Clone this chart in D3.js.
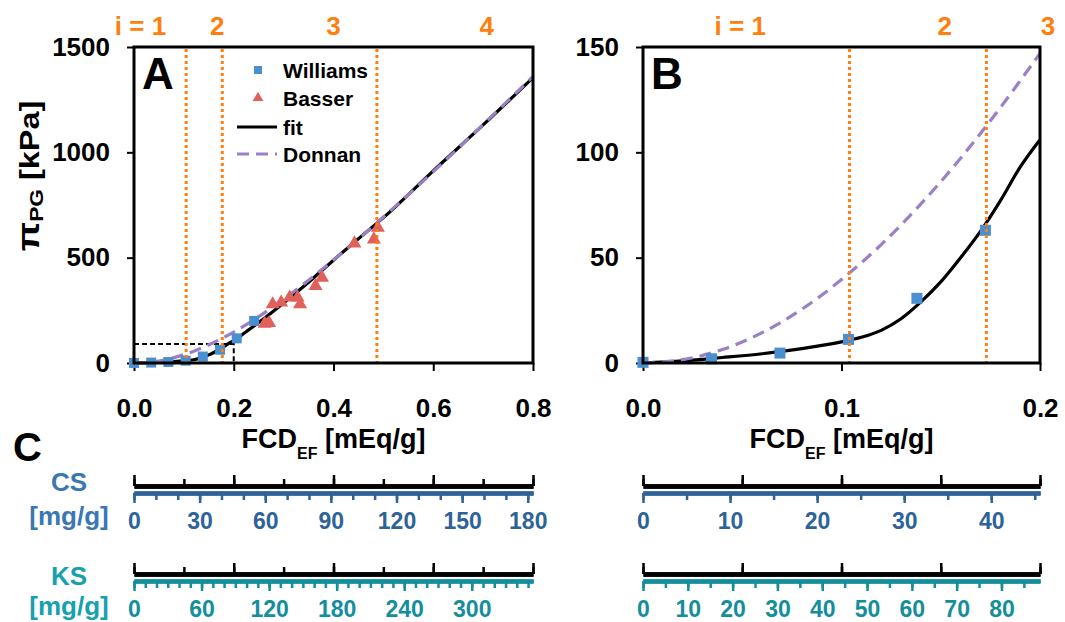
<!DOCTYPE html>
<html>
<head>
<meta charset="utf-8">
<script src="https://d3js.org/d3.v7.min.js"></script>
<style>
  body { margin: 0; background: #fff; }
  svg text { font-family: Arial, "Liberation Sans", sans-serif; font-weight: bold; }
</style>
</head>
<body>
<svg id="chart" width="1065" height="622"></svg>
<script>
// ---- data ----
const williamsX = [0, 0.0345, 0.069, 0.1035, 0.138, 0.1725, 0.206, 0.241];
const williamsY = [0.3, 2, 4.7, 11.2, 30.7, 63, 117, 200];

const basserX = [0.262, 0.271, 0.278, 0.295, 0.312, 0.328, 0.333, 0.364, 0.377, 0.442, 0.481, 0.489];
const basserY = [187, 190, 279, 287, 311, 311, 279, 366, 405, 568, 587, 642];

const fitX = [0, 0.02, 0.04, 0.06, 0.08, 0.1, 0.11, 0.12, 0.13, 0.14, 0.15, 0.16, 0.17, 0.18, 0.19, 0.2,
              0.22, 0.25, 0.3, 0.35, 0.4, 0.45, 0.5, 0.6, 0.7, 0.8];
const fitY = [0, 1.0, 2.6, 4.4, 6.8, 10, 12.2, 15.5, 21, 29, 38.5, 50, 62.5, 77, 93, 106,
              140, 192, 285, 383, 488, 590, 690, 912, 1130, 1355];

const donnanX = [0, 0.02, 0.04, 0.06, 0.08, 0.1, 0.12, 0.14, 0.16, 0.18, 0.2,
                 0.25, 0.3, 0.35, 0.4, 0.45, 0.5, 0.6, 0.7, 0.8];
const donnanY = [0, 1.6, 6.4, 14.4, 25.5, 39.6, 56.2, 75.5, 97.2, 121.2, 147,
                 220, 303, 393, 489, 589, 693, 908, 1132, 1360];

// region boundaries (dotted orange) and region labels
const linesA = [0.1045, 0.177, 0.487];
const linesB = [0.104, 0.173];
const regionTextA = ["i = 1", "2", "3", "4"];
const regionPosA = [0.013, 0.167, 0.40, 0.707];
const regionTextB = ["i = 1", "2", "3"];
const regionPosB = [0.049, 0.152, 0.204];

// ticks
const xTicksA = [0, 0.2, 0.4, 0.6, 0.8];
const yTicksA = [0, 500, 1000, 1500];
const xTicksB = [0, 0.1, 0.2];
const yTicksB = [0, 50, 100, 150];

// panel C conversions (mg of GAG per mEq of charge)
const CS_PER_MEQ = 228;
const KS_PER_MEQ = 443;
const csLabelsA = [0, 30, 60, 90, 120, 150, 180];
const ksLabelsA = [0, 60, 120, 180, 240, 300];
const csLabelsB = [0, 10, 20, 30, 40];
const ksLabelsB = [0, 10, 20, 30, 40, 50, 60, 70, 80];

const ORANGE = "#ff7f0e", PURPLE = "#9a80c6", BLUE = "#4a8fd0", RED = "#e0605b";
const CS_DARK = "#2d6398", CS_LIGHT = "#3a78b4", KS_DARK = "#138e9c", KS_LIGHT = "#16a0b0";

const svg = d3.select("#chart");

const xA = d3.scaleLinear().domain([0, 0.8]).range([134, 533]);
const yA = d3.scaleLinear().domain([0, 1500]).range([363, 47]);
const xB = d3.scaleLinear().domain([0, 0.2]).range([643, 1040]);
const yB = d3.scaleLinear().domain([0, 150]).range([363, 47]);

function drawPanel(p) {
  const g = svg.append("g");
  const x = p.x, y = p.y;
  const xmax = x.domain()[1];
  const [x0, x1] = x.range();
  const [yb, yt] = y.range();

  // axes (ticks + labels)
  const ya = g.append("g").attr("transform", `translate(${x0},0)`)
    .call(d3.axisLeft(y).tickValues(p.yTicks).tickSize(7).tickPadding(17).tickFormat(d3.format("d")));
  const xa = g.append("g").attr("transform", `translate(0,${yb})`)
    .call(d3.axisBottom(x).tickValues(p.xTicks).tickSize(8).tickPadding(28).tickFormat(d3.format(".1f")));
  [ya, xa].forEach(a => {
    a.select(".domain").remove();
    a.selectAll(".tick line").attr("stroke", "#000").attr("stroke-width", 2);
    a.selectAll(".tick text").attr("fill", "#000").style("font-size", "26px");
  });

  // zoom box in A
  if (p.zoomBox) {
    g.append("path")
      .attr("d", `M${x(0)},${y(p.zoomBox[1])}H${x(p.zoomBox[0])}V${yb}`)
      .attr("fill", "none").attr("stroke", "#000").attr("stroke-width", 2)
      .attr("stroke-dasharray", "5,3");
  }

  const line = d3.line().x(d => x(d[0])).y(d => y(d[1])).curve(d3.curveMonotoneX);
  const fit = fitX.map((v, i) => [v, fitY[i]]).filter(d => d[0] <= xmax + 1e-9);
  const don = donnanX.map((v, i) => [v, donnanY[i]]).filter(d => d[0] <= xmax + 1e-9);

  g.append("path").datum(fit).attr("d", line)
    .attr("fill", "none").attr("stroke", "#000").attr("stroke-width", 3.2);
  g.append("path").datum(don).attr("d", line)
    .attr("fill", "none").attr("stroke", PURPLE).attr("stroke-width", 3.2)
    .attr("stroke-dasharray", "12,7");

  // Williams squares
  const ws = p.sq;
  g.selectAll("rect.w").data(williamsX.map((v, i) => [v, williamsY[i]]).filter(d => d[0] <= xmax))
    .join("rect").attr("class", "w")
    .attr("x", d => x(d[0]) - ws / 2).attr("y", d => y(d[1]) - ws / 2)
    .attr("width", ws).attr("height", ws).attr("fill", BLUE);

  // Basser triangles
  g.selectAll("path.b").data(basserX.map((v, i) => [v, basserY[i]]).filter(d => d[0] <= xmax))
    .join("path").attr("class", "b")
    .attr("transform", d => `translate(${x(d[0])},${y(d[1])})`)
    .attr("d", d3.symbol(d3.symbolTriangle, 85)).attr("fill", RED);

  // dotted region lines
  g.selectAll("line.r").data(p.lines).join("line").attr("class", "r")
    .attr("x1", d => x(d)).attr("x2", d => x(d)).attr("y1", yt + 2).attr("y2", yb - 1)
    .attr("stroke", ORANGE).attr("stroke-width", 3).attr("stroke-dasharray", "3,3");

  g.selectAll("text.r").data(p.regionText).join("text").attr("class", "r")
    .attr("x", (d, i) => x(p.regionPos[i])).attr("y", 35)
    .attr("text-anchor", "middle").attr("fill", ORANGE).style("font-size", "26px")
    .text(d => d);

  // frame
  g.append("rect").attr("x", x0).attr("y", yt).attr("width", x1 - x0).attr("height", yb - yt)
    .attr("fill", "none").attr("stroke", "#000").attr("stroke-width", 3);

  // panel letter
  g.append("text").attr("x", x0 + 8).attr("y", yt + 42).style("font-size", "44px").text(p.letter);

  // x title
  const t = g.append("text").attr("x", (x0 + x1) / 2).attr("y", 448)
    .attr("text-anchor", "middle").style("font-size", "27px");
  t.append("tspan").text("FCD");
  t.append("tspan").attr("dy", 11).style("font-size", "16px").text("EF");
  t.append("tspan").attr("dy", -11).text(" [mEq/g]");
}

drawPanel({ x: xA, y: yA, xTicks: xTicksA, yTicks: yTicksA, lines: linesA,
            regionText: regionTextA, regionPos: regionPosA, letter: "A", sq: 10, zoomBox: [0.2, 90] });
drawPanel({ x: xB, y: yB, xTicks: xTicksB, yTicks: yTicksB, lines: linesB,
            regionText: regionTextB, regionPos: regionPosB, letter: "B", sq: 11 });

// y title for A
const yt = svg.append("text")
  .attr("transform", "translate(39,176) rotate(-90) scale(1.2,1)")
  .attr("text-anchor", "middle").style("font-size", "27px");
yt.append("tspan").style("font-size", "32px").text("π");
yt.append("tspan").attr("dy", 4).style("font-size", "19px").text("PG");
yt.append("tspan").attr("dy", -4).text(" [kPa]");

// legend in A
const lg = svg.append("g");
const legendRows = [
  { y: 70, label: "Williams" }, { y: 98, label: "Basser" },
  { y: 127, label: "fit" }, { y: 154, label: "Donnan" }
];
lg.append("rect").attr("x", 254).attr("y", legendRows[0].y - 4).attr("width", 8).attr("height", 8).attr("fill", BLUE);
lg.append("path").attr("transform", `translate(258,${legendRows[1].y})`)
  .attr("d", d3.symbol(d3.symbolTriangle, 50)).attr("fill", RED);
lg.append("line").attr("x1", 237).attr("x2", 277).attr("y1", legendRows[2].y).attr("y2", legendRows[2].y)
  .attr("stroke", "#000").attr("stroke-width", 3.2);
lg.append("line").attr("x1", 237).attr("x2", 277).attr("y1", legendRows[3].y).attr("y2", legendRows[3].y)
  .attr("stroke", PURPLE).attr("stroke-width", 3.2).attr("stroke-dasharray", "12,7");
lg.selectAll("text").data(legendRows).join("text")
  .attr("x", 283).attr("y", d => d.y).attr("dy", "0.36em").style("font-size", "21px")
  .text(d => d.label);

// ---- panel C ----
svg.append("text").attr("x", 13).attr("y", 461).style("font-size", "40px").text("C");

function fcdBar(x, yPos, minorStep, majorStep) {
  const dom = x.domain();
  const minor = d3.range(dom[0], dom[1] + 1e-9, minorStep);
  const major = d3.range(dom[0], dom[1] + 1e-9, majorStep);
  const g = svg.append("g").attr("transform", `translate(0,${yPos})`);
  g.append("g").call(d3.axisTop(x).tickValues(minor).tickSize(7).tickSizeOuter(0).tickFormat(""));
  g.append("g").call(d3.axisTop(x).tickValues(major).tickSize(11).tickSizeOuter(0).tickFormat(""));
  g.selectAll(".domain").attr("stroke", "#000").attr("stroke-width", 4.5);
  g.selectAll(".tick line").attr("stroke", "#000").attr("stroke-width", 2.5);
}

function gagBar(xFcd, perMeq, yPos, labels, minorStep, majorStep, color) {
  const max = xFcd.domain()[1] * perMeq;
  const s = d3.scaleLinear().domain([0, max]).range(xFcd.range());
  const minor = d3.range(0, max, minorStep);
  const major = d3.range(0, max, majorStep);
  const g = svg.append("g").attr("transform", `translate(0,${yPos})`);
  g.append("g").call(d3.axisBottom(s).tickValues(minor).tickSize(7).tickSizeOuter(0).tickFormat(""));
  g.append("g").call(d3.axisBottom(s).tickValues(major).tickSize(10).tickSizeOuter(0).tickFormat(""));
  g.append("g").call(d3.axisBottom(s).tickValues(labels).tickSize(0).tickSizeOuter(0).tickPadding(20)
    .tickFormat(d3.format("d")));
  g.selectAll(".domain").attr("stroke", color).attr("stroke-width", 4);
  g.selectAll(".tick line").attr("stroke", color).attr("stroke-width", 2.5);
  g.selectAll(".tick text").attr("fill", color).style("font-size", "23px");
}

fcdBar(xA, 486, 0.1, 0.2);
gagBar(xA, CS_PER_MEQ, 493, csLabelsA, 10, 30, CS_DARK);
fcdBar(xA, 574, 0.1, 0.2);
gagBar(xA, KS_PER_MEQ, 581, ksLabelsA, 10, 60, KS_DARK);

fcdBar(xB, 486, 0.05, 0.05);
gagBar(xB, CS_PER_MEQ, 493, csLabelsB, 5, 10, CS_DARK);
fcdBar(xB, 574, 0.05, 0.05);
gagBar(xB, KS_PER_MEQ, 581, ksLabelsB, 5, 10, KS_DARK);

// row labels
const rowLabels = [
  { t: "CS", y: 491, c: CS_LIGHT }, { t: "[mg/g]", y: 525, c: CS_LIGHT },
  { t: "KS", y: 585, c: KS_LIGHT }, { t: "[mg/g]", y: 615, c: KS_LIGHT }
];
svg.selectAll("text.row").data(rowLabels).join("text").attr("class", "row")
  .attr("x", 69).attr("y", d => d.y).attr("text-anchor", "middle")
  .attr("fill", d => d.c).style("font-size", "26px").text(d => d.t);
</script>
</body>
</html>
